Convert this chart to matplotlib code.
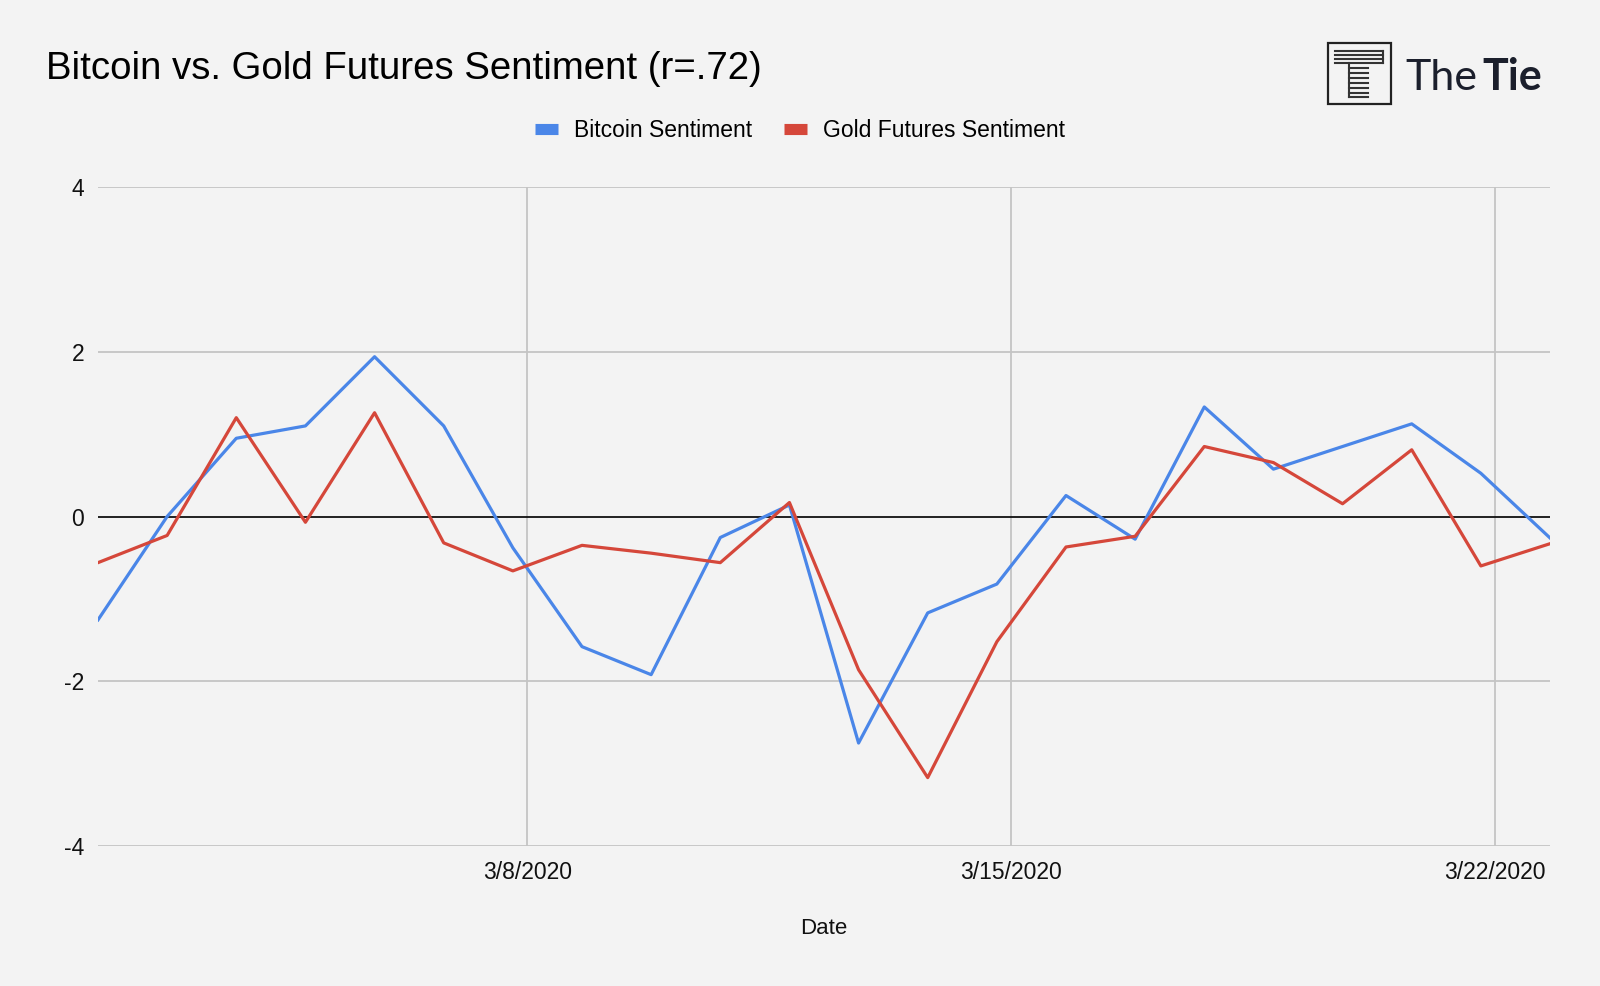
import matplotlib
matplotlib.use('Agg')
import matplotlib.pyplot as plt
from matplotlib.lines import Line2D
import pandas as pd

# 数据
dates = pd.date_range('2020-03-01 19:00', periods=22, freq='D')
bitcoin = [-1.255, 0.0, 0.95, 1.10, 1.94, 1.10, -0.38, -1.58, -1.92, -0.255, 0.14,
           -2.75, -1.17, -0.82, 0.255, -0.275, 1.33, 0.575, 0.85, 1.125, 0.525, -0.26]
gold = [-0.56, -0.23, 1.20, -0.07, 1.26, -0.32, -0.66, -0.35, -0.445, -0.56, 0.17,
        -1.86, -3.17, -1.52, -0.37, -0.24, 0.85, 0.655, 0.155, 0.81, -0.60, -0.33]
tick_dates = pd.to_datetime(['2020-03-08', '2020-03-15', '2020-03-22'])
tick_labels = ['3/8/2020', '3/15/2020', '3/22/2020']
y_ticks = [-4, -2, 0, 2, 4]

BLUE = '#4a86e8'
RED = '#d5473a'
BG = '#f3f3f3'
GRID = '#c4c4c4'

plt.rcParams['font.family'] = ['Liberation Sans', 'DejaVu Sans']

fig = plt.figure(figsize=(16, 9.86), dpi=100, facecolor=BG)
ax = fig.add_axes([0.06125, 0.142, 0.9075, 0.6683], facecolor=BG)

ax.plot(dates, bitcoin, color=BLUE, linewidth=2.3, label='Bitcoin Sentiment', zorder=3)
ax.plot(dates, gold, color=RED, linewidth=2.3, label='Gold Futures Sentiment', zorder=3)

ax.set_xlim(dates[0], dates[-1])
ax.set_ylim(-4, 4)
ax.set_yticks(y_ticks)
ax.set_yticklabels([str(v) for v in y_ticks])
ax.set_xticks(tick_dates)
ax.set_xticklabels(tick_labels)
ax.tick_params(axis='both', length=0, labelsize=16.5, colors='#111111')
ax.tick_params(axis='y', pad=10)
ax.tick_params(axis='x', pad=11)

for v in y_ticks:
    if v == 0:
        ax.axhline(v, color='#111111', linewidth=1.3, zorder=2)
    else:
        ax.axhline(v, color=GRID, linewidth=1.3, zorder=1)
for d in tick_dates:
    ax.axvline(d, color=GRID, linewidth=1.3, zorder=1)

for s in ax.spines.values():
    s.set_visible(False)

ax.set_xlabel('Date', fontsize=16, color='#111111', labelpad=24)

fig.text(0.029, 0.930, 'Bitcoin vs. Gold Futures Sentiment (r=.72)',
         fontsize=27.6, color='#000000', ha='left', va='center')

handles = [Line2D([0], [0], color=BLUE, linewidth=8, solid_capstyle='butt'),
           Line2D([0], [0], color=RED, linewidth=8, solid_capstyle='butt')]
fig.legend(handles, ['Bitcoin Sentiment', 'Gold Futures Sentiment'],
           loc='center', bbox_to_anchor=(0.5, 0.868), ncol=2, frameon=False,
           fontsize=16.5, handlelength=1.0, handletextpad=0.7, columnspacing=1.4)

# logo
W, H = 1600.0, 986.0
def fx(px): return px / W
def fy(py): return 1 - py / H
box = plt.Rectangle((fx(1328), fy(104)), fx(1391) - fx(1328), fy(43) - fy(104),
                    transform=fig.transFigure, fill=False, edgecolor='#222222', linewidth=1.6)
fig.add_artist(box)
for yy in [51, 55, 59, 63]:
    fig.add_artist(Line2D([fx(1335), fx(1383)], [fy(yy), fy(yy)], transform=fig.transFigure,
                          color='#333333', linewidth=1.5))
fig.add_artist(Line2D([fx(1383), fx(1383)], [fy(51), fy(63)], transform=fig.transFigure,
                      color='#333333', linewidth=1.5))
for yy in [68, 73, 78, 83, 88, 93, 97]:
    fig.add_artist(Line2D([fx(1349), fx(1368)], [fy(yy), fy(yy)], transform=fig.transFigure,
                          color='#333333', linewidth=1.5))
fig.add_artist(Line2D([fx(1349), fx(1349)], [fy(63), fy(97)], transform=fig.transFigure,
                      color='#333333', linewidth=1.5))
fig.text(fx(1405), fy(90), 'The', fontsize=31, family=['Lato', 'DejaVu Sans'],
         fontweight='normal', color='#1b1f2c', ha='left', va='baseline')
fig.text(fx(1482), fy(90), 'Tie', fontsize=31, family=['Lato', 'DejaVu Sans'],
         fontweight='bold', color='#1b1f2c', ha='left', va='baseline')

fig.savefig('out.png', dpi=100, facecolor=BG)
